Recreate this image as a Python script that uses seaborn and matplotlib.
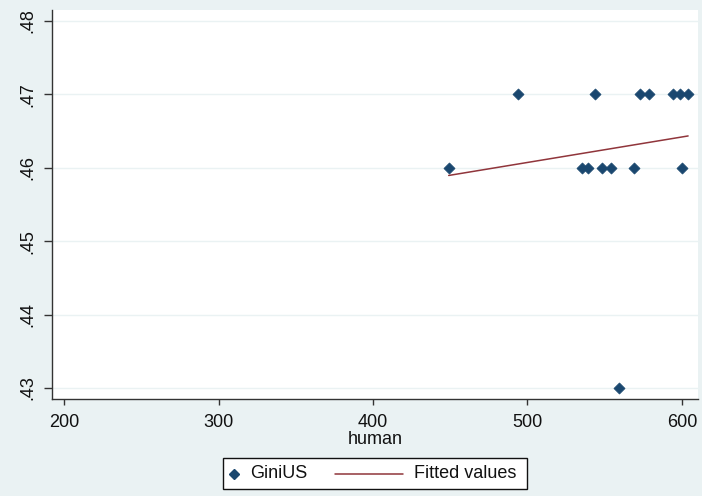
import numpy as np
import pandas as pd
import seaborn as sns
import matplotlib.pyplot as plt
from matplotlib.lines import Line2D
from matplotlib.patches import Rectangle
from matplotlib.ticker import FuncFormatter

# Observations: human capital index vs US Gini coefficient
human = [449, 494, 535, 539, 544, 548, 554, 559, 569, 573, 579, 594, 599, 600, 604]
gini_us = [0.46, 0.47, 0.46, 0.46, 0.47, 0.46, 0.46, 0.43, 0.46, 0.47, 0.47, 0.47, 0.47, 0.46, 0.47]

x_ticks = [200, 300, 400, 500, 600]
y_ticks = [0.43, 0.44, 0.45, 0.46, 0.47, 0.48]
legend_labels = ["GiniUS", "Fitted values"]

df = pd.DataFrame({"human": human, "GiniUS": gini_us})

sns.set_theme(style="white")
plt.rcParams["font.family"] = ["Liberation Sans", "DejaVu Sans"]

navy = "#1a476f"
maroon = "#90353b"
region = "#eaf2f3"
ink = "#111111"

W, H = 702, 496
fig = plt.figure(figsize=(W / 100, H / 100), dpi=100, facecolor=region)
ax = fig.add_axes([52 / W, 1 - 399 / H, 646 / W, 389 / H])
ax.set_facecolor("white")

for yv in y_ticks:
    ax.axhline(yv, color=region, lw=1.0, zorder=0)

sns.scatterplot(data=df, x="human", y="GiniUS", marker="D", s=32,
                color=navy, edgecolor=navy, linewidth=0.5, ax=ax, zorder=3)
sns.regplot(data=df, x="human", y="GiniUS", scatter=False, ci=None,
            truncate=True, color=maroon, line_kws={"lw": 1.1}, ax=ax)

ax.set_xlim(192.2, 610.4)
ax.set_ylim(0.4285, 0.48149)
ax.set_xticks(x_ticks)
ax.set_yticks(y_ticks)
ax.yaxis.set_major_formatter(FuncFormatter(lambda v, p: f"{v:.2f}".lstrip("0")))
ax.tick_params(axis="both", which="major", direction="out", width=1,
               color="#333333", labelsize=13, labelcolor=ink,
               bottom=True, left=True)
ax.tick_params(axis="x", length=4.5, pad=6)
ax.tick_params(axis="y", length=6, pad=5)
for lab in ax.get_yticklabels():
    lab.set_rotation(90)
    lab.set_va("center")

for side in ["left", "bottom"]:
    ax.spines[side].set_color("#333333")
    ax.spines[side].set_linewidth(1.0)
for side in ["top", "right"]:
    ax.spines[side].set_visible(False)

ax.set_xlabel("human", fontsize=13, labelpad=0.3, color=ink)
ax.set_ylabel("")

# Legend box below the plot
fig.add_artist(Rectangle((223.5 / W, 1 - 489 / H), 304 / W, 31 / H,
                         transform=fig.transFigure, facecolor="white",
                         edgecolor=ink, lw=1.0))
ly = 1 - 474 / H
fig.add_artist(Line2D([233.5 / W], [ly], marker="D", ls="none", color=navy,
                      markersize=4.8, transform=fig.transFigure))
fig.text(250 / W, ly, legend_labels[0], fontsize=13, color=ink,
         va="center", ha="left")
fig.add_artist(Line2D([335 / W, 403 / W], [ly, ly], color=maroon, lw=1.1,
                      transform=fig.transFigure))
fig.text(414 / W, ly, legend_labels[1], fontsize=13, color=ink,
         va="center", ha="left")

fig.savefig("out.png", dpi=100, facecolor=region)
